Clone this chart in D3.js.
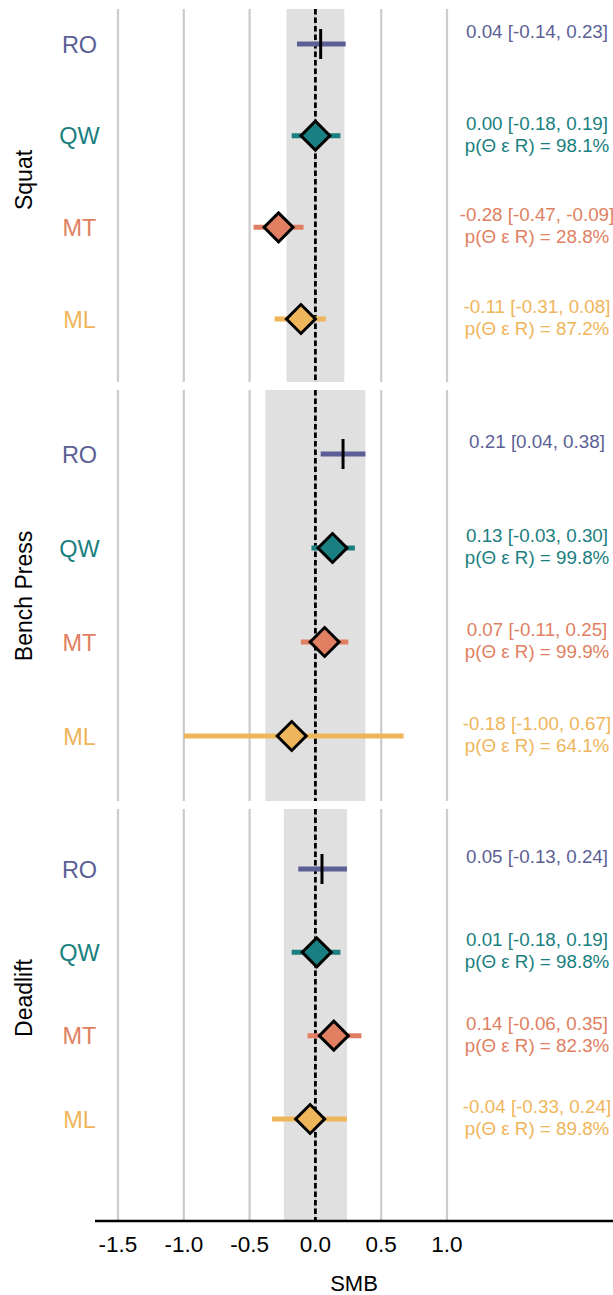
<!DOCTYPE html>
<html>
<head>
<meta charset="utf-8">
<script src="https://cdn.jsdelivr.net/npm/d3@7"></script>
<style>
  body { margin: 0; background: #fff; }
  svg { display: block; font-family: "Liberation Sans", Arial, sans-serif; }
</style>
</head>
<body>
<svg id="chart" width="613" height="1295"></svg>
<script>
// data
var exercises = ['Squat', 'Bench Press', 'Deadlift'];
var groups = ['RO', 'QW', 'MT', 'ML'];
var groupColors = ['#5b5f95', '#1a7f80', '#e07f62', '#efb55b'];
var estimates = [[0.04, 0.00, -0.28, -0.11], [0.21, 0.13, 0.07, -0.18], [0.05, 0.01, 0.14, -0.04]];
var lower = [[-0.14, -0.18, -0.47, -0.31], [0.04, -0.03, -0.11, -1.00], [-0.13, -0.18, -0.06, -0.33]];
var upper = [[0.23, 0.19, -0.09, 0.08], [0.38, 0.30, 0.25, 0.67], [0.24, 0.19, 0.35, 0.24]];
var probInRope = [[null, 98.1, 28.8, 87.2], [null, 99.8, 99.9, 64.1], [null, 98.8, 82.3, 89.8]];
var ropeHalfWidth = [0.22, 0.38, 0.24];
var xTicks = [-1.5, -1.0, -0.5, 0.0, 0.5, 1.0];

// layout
var PANEL_LEFT = 95, PANEL_RIGHT = 613;
var panelTop = [9, 390, 809];
var panelBottom = [382, 801, 1221];
var rowFirst = [44, 454, 869];
var rowLast = [319, 736, 1119];
var facetLabelY = [180, 596, 998];
var LABEL_X = 537;
var DIAMOND_HALF = 14.5;

var svg = d3.select('#chart');

var x = d3.scaleLinear().domain([-1.5, 1.0]).range([118, 447]);
var fmt2 = function(v) { return v.toFixed(2); };

exercises.forEach(function(ex, p) {
  var g = svg.append('g').attr('class', 'panel');
  var top = panelTop[p], bottom = panelBottom[p];

  var y = d3.scalePoint().domain(groups).range([rowFirst[p], rowLast[p]]);

  // rope band
  g.append('rect')
    .attr('x', x(-ropeHalfWidth[p]))
    .attr('width', x(ropeHalfWidth[p]) - x(-ropeHalfWidth[p]))
    .attr('y', top)
    .attr('height', bottom - top)
    .attr('fill', '#e0e0e0');

  // grid lines
  g.selectAll('.grid')
    .data(xTicks)
    .enter()
    .append('line')
    .attr('class', 'grid')
    .attr('x1', function(d) { return x(d); })
    .attr('x2', function(d) { return x(d); })
    .attr('y1', top)
    .attr('y2', bottom)
    .attr('stroke', '#cbcbcb')
    .attr('stroke-width', 2.2);

  // zero reference
  g.append('line')
    .attr('x1', x(0)).attr('x2', x(0))
    .attr('y1', top).attr('y2', bottom)
    .attr('stroke', '#000')
    .attr('stroke-width', 2.8)
    .attr('stroke-dasharray', '5.5,3');

  // facet label
  g.append('text')
    .attr('transform', 'translate(32,' + facetLabelY[p] + ') rotate(-90)')
    .attr('text-anchor', 'middle')
    .attr('font-size', 23)
    .attr('fill', '#000')
    .text(ex);

  var rows = groups.map(function(grp, i) {
    return {
      group: grp,
      color: groupColors[i],
      est: estimates[p][i],
      lo: lower[p][i],
      hi: upper[p][i],
      prob: probInRope[p][i]
    };
  });

  // group labels
  g.selectAll('.glabel')
    .data(rows)
    .enter()
    .append('text')
    .attr('class', 'glabel')
    .attr('x', 79.5)
    .attr('y', function(d) { return y(d.group) + 8.5; })
    .attr('text-anchor', 'middle')
    .attr('font-size', 23.5)
    .attr('fill', function(d) { return d.color; })
    .text(function(d) { return d.group; });

  // intervals
  g.selectAll('.interval')
    .data(rows)
    .enter()
    .append('line')
    .attr('class', 'interval')
    .attr('x1', function(d) { return x(d.lo); })
    .attr('x2', function(d) { return x(d.hi); })
    .attr('y1', function(d) { return y(d.group); })
    .attr('y2', function(d) { return y(d.group); })
    .attr('stroke', function(d) { return d.color; })
    .attr('stroke-width', 5);

  // RO estimate as a vertical tick, others as diamonds
  g.selectAll('.tick-est')
    .data(rows.filter(function(d) { return d.prob === null; }))
    .enter()
    .append('line')
    .attr('class', 'tick-est')
    .attr('x1', function(d) { return x(d.est); })
    .attr('x2', function(d) { return x(d.est); })
    .attr('y1', function(d) { return y(d.group) - 15; })
    .attr('y2', function(d) { return y(d.group) + 15; })
    .attr('stroke', '#000')
    .attr('stroke-width', 3);

  var side = DIAMOND_HALF * Math.SQRT2;
  g.selectAll('.diamond')
    .data(rows.filter(function(d) { return d.prob !== null; }))
    .enter()
    .append('path')
    .attr('class', 'diamond')
    .attr('d', d3.symbol().type(d3.symbolSquare).size(side * side))
    .attr('transform', function(d) { return 'translate(' + x(d.est) + ',' + y(d.group) + ') rotate(45)'; })
    .attr('fill', function(d) { return d.color; })
    .attr('stroke', '#000')
    .attr('stroke-width', 3)
    .attr('stroke-linejoin', 'miter');

  // summary labels
  var lbl = g.selectAll('.summary')
    .data(rows)
    .enter()
    .append('text')
    .attr('class', 'summary')
    .attr('text-anchor', 'middle')
    .attr('font-size', 18.8)
    .attr('fill', function(d) { return d.color; });

  lbl.append('tspan')
    .attr('x', LABEL_X)
    .attr('y', function(d) { return y(d.group) - 6; })
    .text(function(d) { return fmt2(d.est) + ' [' + fmt2(d.lo) + ', ' + fmt2(d.hi) + ']'; });

  lbl.filter(function(d) { return d.prob !== null; })
    .append('tspan')
    .attr('x', LABEL_X)
    .attr('y', function(d) { return y(d.group) + 16; })
    .text(function(d) { return 'p(\u0398 \u03b5 R) = ' + d.prob.toFixed(1) + '%'; });
});

// x axis
var axisY = panelBottom[2];
svg.append('line')
  .attr('x1', PANEL_LEFT).attr('x2', PANEL_RIGHT)
  .attr('y1', axisY).attr('y2', axisY)
  .attr('stroke', '#000')
  .attr('stroke-width', 2.5);

svg.selectAll('.xlabel')
  .data(xTicks)
  .enter()
  .append('text')
  .attr('class', 'xlabel')
  .attr('x', function(d) { return x(d); })
  .attr('y', 1252)
  .attr('text-anchor', 'middle')
  .attr('font-size', 22.5)
  .attr('fill', '#000')
  .text(function(d) { return d.toFixed(1); });

svg.append('text')
  .attr('x', (PANEL_LEFT + PANEL_RIGHT) / 2)
  .attr('y', 1291)
  .attr('text-anchor', 'middle')
  .attr('font-size', 22)
  .attr('fill', '#000')
  .text('SMB');
</script>
</body>
</html>
